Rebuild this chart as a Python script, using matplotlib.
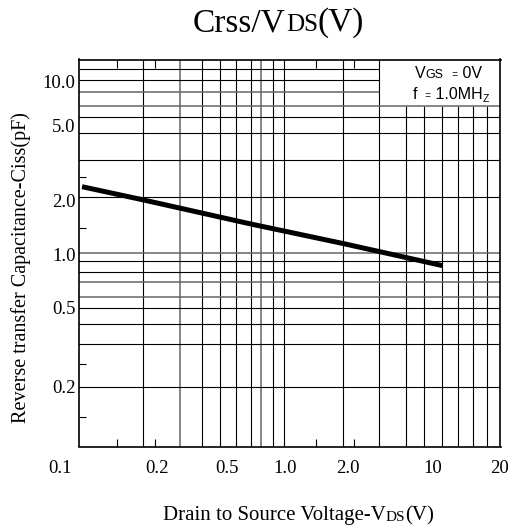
import matplotlib
matplotlib.use('Agg')
import matplotlib.pyplot as plt
import matplotlib.transforms as mtransforms
from matplotlib.ticker import NullFormatter

plt.rcParams['font.family'] = 'Liberation Serif'
SANS = 'Liberation Sans'

# measured curve (VDS in V, Crss in pF)
vds = [0.1045, 0.224, 0.861, 2.78, 9.68]
crss = [2.59, 2.19, 1.61, 1.25, 0.942]

# grid of the datasheet (irregular)
vgrid_full = [0.224, 0.358, 0.473, 0.593, 0.720, 0.869, 0.985, 1.15, 1.315, 2.78, 4.37]
vgrid_low = [6.11, 7.69, 9.63, 11.7, 14.1, 16.95]
hgrid_full = [7.30, 6.35, 5.13, 3.64, 2.28, 1.111, 1.003, 0.865, 0.764, 0.628, 0.550, 0.446, 0.345, 0.198]
hgrid_left = [11.64, 10.11, 8.71]
gray_v = [0.358, 0.985]
gray_h = [8.71, 7.30, 1.111, 0.764, 0.628]

xtick_labels = ['0.1', '0.2', '0.5', '1.0', '2.0', '10', '20']
xtick_at = [0.0793, 0.268, 0.645, 1.336, 2.93, 8.52, 19.63]
ytick_labels = ['10.0', '5.0', '2.0', '1.0', '0.5', '0.2']
ytick_at = [10.0, 5.70, 2.18, 1.086, 0.551, 0.2009]
xminor = [0.1616, 0.2612, 1.965, 3.178]
yminor = [2.92, 1.519, 0.267, 0.136]

xlim = (0.1, 20)
ylim = (0.093, 13.2)

W, H = 510, 529
fig = plt.figure(figsize=(W / 100, H / 100), dpi=100)
ax = fig.add_axes([78.5 / W, 1 - 446.5 / H, 422 / W, 387 / H])
ax.set_xscale('log')
ax.set_yscale('log')
ax.set_xlim(*xlim)
ax.set_ylim(*ylim)


def gstyle(v, grays):
    return dict(color='0.4', lw=1.1) if v in grays else dict(color='black', lw=0.8)


for x in vgrid_full:
    ax.axvline(x, zorder=1, **gstyle(x, gray_v))
for x in vgrid_low:
    ax.vlines(x, ylim[0], hgrid_full[0], color='black', lw=0.8, zorder=1)
for y in hgrid_full:
    ax.axhline(y, zorder=1, **gstyle(y, gray_h))
for y in hgrid_left:
    ax.hlines(y, xlim[0], vgrid_full[-1], zorder=1, **gstyle(y, gray_h))

ax.plot(vds, crss, color='black', lw=3.6, solid_capstyle='butt', zorder=3)

for s in ax.spines.values():
    s.set_linewidth(1.2)

ax.set_xticks([])
ax.set_xticks(xminor, minor=True)
ax.xaxis.set_minor_formatter(NullFormatter())
ax.tick_params(axis='x', which='minor', direction='in', length=6, width=0.8, top=True, bottom=True)

ax.set_yticks(ytick_at, ytick_labels)
ax.set_yticks(yminor, minor=True)
ax.yaxis.set_minor_formatter(NullFormatter())
ax.tick_params(axis='y', which='major', length=0, pad=2, labelsize=13.5)
ax.tick_params(axis='y', which='minor', direction='in', length=5, width=0.8, left=True, right=False)

trans = mtransforms.blended_transform_factory(ax.transData, ax.transAxes)
for lab, x in zip(xtick_labels, xtick_at):
    ax.text(x, (446.5 - 472.7) / 387, lab, transform=trans, ha='center', va='baseline',
            fontsize=13.5, clip_on=False)


def chained(x, y, parts, family, desc=0.22):
    # parts: (text, size, drop in points); pieces share one baseline
    txt, size, drop = parts[0]
    t = fig.text(x / W, 1 - y / H, txt, fontsize=size, family=family, va='baseline', ha='left')
    prev, prev_drop = size, drop
    for txt, size, drop in parts[1:]:
        off = desc * (prev - size) - (drop - prev_drop)
        t = fig.add_artist(matplotlib.text.Annotation(
            txt, xy=(1, 0), xycoords=t, xytext=(0, off), textcoords='offset points',
            fontsize=size, family=family, va='bottom', ha='left'))
        prev, prev_drop = size, drop


chained(193, 31, [('Crss/V', 24, 0), ('DS', 18, 0), ('(V)', 24, 0)], 'Liberation Serif')
chained(163, 520, [('Drain to Source Voltage-V', 15, 0), ('DS', 11, 0), ('(V)', 15, 0)],
        'Liberation Serif')
fig.text(21 / W, 1 - 268 / H, 'Reverse transfer Capacitance-Ciss(pF)', rotation=90,
         ha='center', va='center', fontsize=14.5)

chained(415, 78.3, [('V', 11.5, 0), ('GS', 9, 0), ('   =', 7, 0), (' 0V', 11.5, 0)], SANS, desc=0.21)
chained(412.7, 99, [('f', 11.5, 0), ('   =', 7, 0), (' 1.0MH', 11.5, 0), ('Z', 7.5, 2)], SANS, desc=0.21)

fig.savefig('out.png', dpi=100)
